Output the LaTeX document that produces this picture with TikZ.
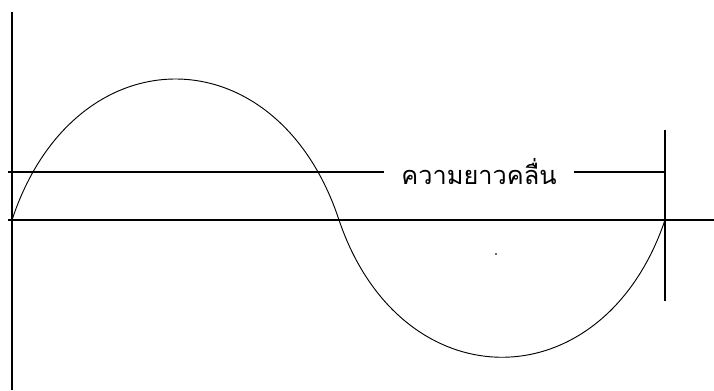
\documentclass[tikz,border=0pt]{standalone}
\usepackage{fontspec}
\newfontfamily\thaifont[Script=Thai]{Loma}

\begin{document}
\begin{tikzpicture}[x=0.75pt,y=-0.75pt,line width=0.9pt]
  % canvas: 714 x 390 px, y measured downwards
  \useasboundingbox (0,0) rectangle (714,390);
  % axes
  \coordinate (ytop) at (12,12);
  \coordinate (ybot) at (12,390);
  \coordinate (xleft) at (8,220);
  \coordinate (xright) at (714,220);
  \draw (ytop) -- (ybot);
  \draw (xleft) -- (xright);
  % one full wave: crest arch 12..339, trough arch 339..665
  \coordinate (w0) at (12,220);
  \coordinate (w1) at (339,220);
  \coordinate (w2) at (665,220);
  \draw[line width=0.7pt] (w0) .. controls (74,32) and (277,32) .. (w1)
    .. controls (401,403) and (603,403) .. (w2);
  % end marker of the wavelength
  \coordinate (etop) at (665,130);
  \coordinate (ebot) at (665,301);
  \draw (etop) -- (ebot);
  % wavelength label with its two lines
  \coordinate (wl) at (8,172);
  \coordinate (wr) at (665,172);
  \node[inner sep=0pt, minimum width=141pt, font=\thaifont\fontsize{19}{22}\selectfont]
    (wave) at (479,172) {ความยาวคลื่น};
  \draw (wl) -- (wave.west);
  \draw (wave.east) -- (wr);
  % stray dot
  \fill[black!60] (495,253) rectangle (497,255);
\end{tikzpicture}
\end{document}
